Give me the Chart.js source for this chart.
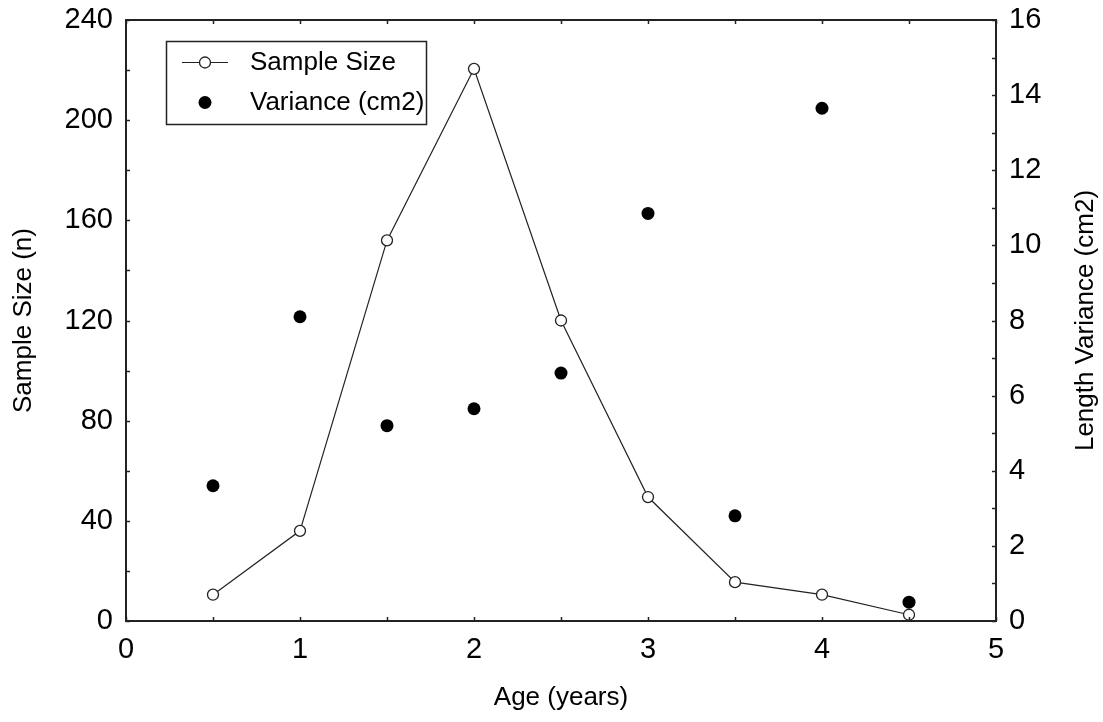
<!DOCTYPE html>
<html>
<head>
<meta charset="utf-8">
<script src="https://cdn.jsdelivr.net/npm/chart.js@4.4.1/dist/chart.umd.min.js"></script>
<style>
  html, body { margin: 0; padding: 0; background: #fff; }
</style>
</head>
<body>
<canvas id="graficoIdade" width="1103" height="722"></canvas>
<script>
// --- DATA ---
const ages = [0.5, 1, 1.5, 2, 2.5, 3, 3.5, 4, 4.5];
const sampleSize = [10.5, 36, 152, 220.5, 120, 49.5, 15.5, 10.5, 2.5];
const variance = [3.6, 8.1, 5.2, 5.65, 6.6, 10.85, 2.8, 13.65, 0.5];
const xTicks = [0, 1, 2, 3, 4, 5];
const leftTicks = [0, 40, 80, 120, 160, 200, 240];
const rightTicks = [0, 2, 4, 6, 8, 10, 12, 14, 16];
const seriesNames = ["Sample Size", "Variance (cm2)"];

// minor (inward) tick steps
const X_MINOR = 0.5;
const LEFT_MINOR = 20;
const RIGHT_MINOR = 1;

const FONT = "'Liberation Sans', Arial, sans-serif";
const tickFont = { family: FONT, size: 29 };
const titleFont = { family: FONT, size: 26 };

const ctx = document.getElementById("graficoIdade").getContext("2d");

function fixedTicks(list) {
    return scale => { scale.ticks = list.map(v => ({ value: v })); };
}

// fixed axis box size, and no extra padding for overflowing labels
function fixedSize(prop, size) {
    return s => {
        s[prop] = size;
        s.paddingTop = 0; s.paddingBottom = 0;
        s.paddingLeft = 0; s.paddingRight = 0;
    };
}

// --- FRAME, INWARD TICKS, RIGHT TITLE AND LEGEND ---
const framePlugin = {
    id: "frame",
    afterDraw(chart) {
        const c = chart.ctx;
        const { left, right, top, bottom } = chart.chartArea;
        const sx = chart.scales.x, sy = chart.scales.y, sy2 = chart.scales.y2;
        const len = 4;

        c.save();
        c.strokeStyle = "#222";
        c.lineWidth = 2;
        c.strokeRect(left, top, right - left, bottom - top);

        c.lineWidth = 1.5;
        c.beginPath();
        for (let v = sx.min; v <= sx.max + 1e-9; v += X_MINOR) {
            const px = Math.round(sx.getPixelForValue(v)) + 0.5;
            c.moveTo(px, bottom); c.lineTo(px, bottom - len);
            c.moveTo(px, top); c.lineTo(px, top + len);
        }
        for (let v = sy.min; v <= sy.max + 1e-9; v += LEFT_MINOR) {
            const py = Math.round(sy.getPixelForValue(v)) + 0.5;
            c.moveTo(left, py); c.lineTo(left + len, py);
        }
        for (let v = sy2.min; v <= sy2.max + 1e-9; v += RIGHT_MINOR) {
            const py = Math.round(sy2.getPixelForValue(v)) + 0.5;
            c.moveTo(right, py); c.lineTo(right - len, py);
        }
        c.stroke();

        // right axis title, reads bottom to top
        c.fillStyle = "#000";
        c.font = `${titleFont.size}px ${FONT}`;
        c.textAlign = "center";
        c.textBaseline = "middle";
        c.translate(1086, (top + bottom) / 2);
        c.rotate(-Math.PI / 2);
        c.fillText("Length Variance (cm2)", 0, 0);
        c.restore();

        // legend box
        c.save();
        c.fillStyle = "#fff";
        c.fillRect(166, 41, 261, 84);
        c.strokeStyle = "#222";
        c.lineWidth = 1.5;
        c.strokeRect(166.5, 41.5, 260, 83);

        c.lineWidth = 1.2;
        c.beginPath();
        c.moveTo(182, 62.5); c.lineTo(228, 62.5);
        c.stroke();
        c.beginPath();
        c.arc(205, 62.5, 5.5, 0, Math.PI * 2);
        c.fillStyle = "#fff";
        c.fill();
        c.lineWidth = 1.3;
        c.stroke();
        c.beginPath();
        c.arc(205, 102.5, 6.5, 0, Math.PI * 2);
        c.fillStyle = "#000";
        c.fill();

        c.font = `${titleFont.size}px ${FONT}`;
        c.textAlign = "left";
        c.textBaseline = "middle";
        c.fillText(seriesNames[0], 250, 63);
        c.fillText(seriesNames[1], 250, 103);
        c.restore();
    }
};

// --- CHART ---
new Chart(ctx, {
    data: {
        datasets: [
            {
                type: "line",
                label: seriesNames[0],
                data: ages.map((a, i) => ({ x: a, y: sampleSize[i] })),
                yAxisID: "y",
                borderColor: "#222",
                borderWidth: 1.2,
                tension: 0,
                fill: false,
                pointRadius: 5.5,
                pointBorderWidth: 1.3,
                pointBorderColor: "#222",
                pointBackgroundColor: "#fff",
                clip: false
            },
            {
                type: "scatter",
                label: seriesNames[1],
                data: ages.map((a, i) => ({ x: a, y: variance[i] })),
                yAxisID: "y2",
                showLine: false,
                pointRadius: 6.5,
                pointBorderWidth: 0,
                pointBackgroundColor: "#000",
                clip: false
            }
        ]
    },
    options: {
        responsive: false,
        animation: false,
        layout: { padding: { top: 20, left: 0, right: 0, bottom: 0 } },
        plugins: {
            legend: { display: false },
            tooltip: { enabled: false }
        },
        scales: {
            x: {
                type: "linear",
                min: 0,
                max: 5,
                afterBuildTicks: fixedTicks(xTicks),
                afterFit: fixedSize("height", 101),
                grid: { display: false, drawTicks: false },
                border: { display: false },
                ticks: { font: tickFont, color: "#000", padding: 12, maxRotation: 0 },
                title: { display: true, text: "Age (years)", font: titleFont, color: "#000", padding: { top: 0, bottom: 9 } }
            },
            y: {
                position: "left",
                min: 0,
                max: 240,
                afterBuildTicks: fixedTicks(leftTicks),
                afterFit: fixedSize("width", 126),
                grid: { display: false, drawTicks: false },
                border: { display: false },
                ticks: { font: tickFont, color: "#000", padding: 13 },
                title: { display: true, text: "Sample Size (n)", font: titleFont, color: "#000", padding: { top: 8, bottom: 0 } }
            },
            y2: {
                position: "right",
                min: 0,
                max: 16,
                afterBuildTicks: fixedTicks(rightTicks),
                afterFit: fixedSize("width", 107),
                grid: { display: false, drawTicks: false },
                border: { display: false },
                ticks: { font: tickFont, color: "#000", padding: 13 }
            }
        }
    },
    plugins: [framePlugin]
});
</script>
</body>
</html>
